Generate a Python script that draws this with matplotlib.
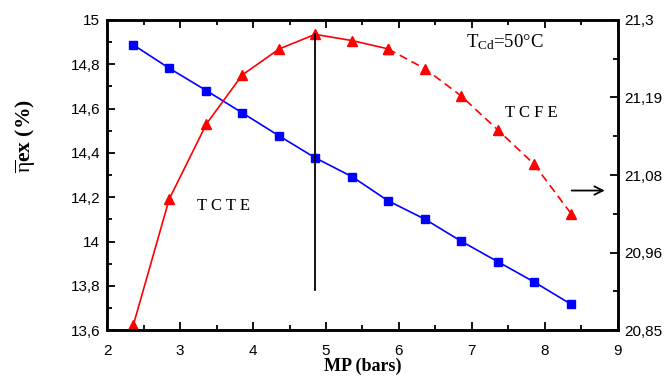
import numpy as np
import matplotlib.pyplot as plt
from matplotlib.ticker import MultipleLocator, FixedLocator

plt.rcParams["mathtext.fontset"] = "custom"
plt.rcParams["mathtext.rm"] = "Liberation Serif"
plt.rcParams["mathtext.it"] = "Liberation Serif:italic"
plt.rcParams["mathtext.bf"] = "Liberation Serif:bold"

# medium pressure (bars)
mp = [2.36, 2.85, 3.36, 3.85, 4.36, 4.85, 5.36, 5.85, 6.36, 6.85, 7.36, 7.85, 8.36]

# exergy efficiency, left axis (%)
eta_left = [14.887, 14.782, 14.681, 14.581, 14.476, 14.378, 14.292, 14.184,
            14.100, 14.002, 13.908, 13.818, 13.717]

# exergy efficiency, right axis (%)
eta_right = [20.858, 21.040, 21.149, 21.220, 21.258, 21.279, 21.270, 21.258,
             21.229, 21.190, 21.140, 21.091, 21.019]

right_ticks = [20.85, 20.9625, 21.075, 21.1875, 21.3]
right_labels = ["20,85", "20,96", "21,08", "21,19", "21,3"]
left_ticks = [13.6, 13.8, 14.0, 14.2, 14.4, 14.6, 14.8, 15.0]
left_labels = ["13,6", "13,8", "14", "14,2", "14,4", "14,6", "14,8", "15"]

peak_idx = 5      # optimum MP
split_idx = 7     # TCTE -> TCFE transition
line_bottom = 20.908

fig = plt.figure(figsize=(6.7, 3.83), dpi=100)
ax = fig.add_axes([0.160, 0.138, 0.762, 0.810])
ax2 = ax.twinx()

sans = "Liberation Sans"
serif = "Liberation Serif"

ax.plot(mp, eta_left, color="#0000ff", lw=1.2, marker="s", ms=6,
        markeredgecolor="#0000ff")

ax2.plot(mp[:split_idx + 1], eta_right[:split_idx + 1], color="#ff0000", lw=1.2,
         marker="^", ms=6.5)
ax2.plot(mp[split_idx:], eta_right[split_idx:], color="#ff0000", lw=1.2,
         ls=(0, (5, 3)), marker="^", ms=6.5)
ax2.plot([mp[peak_idx], mp[peak_idx]], [line_bottom, eta_right[peak_idx]],
         color="black", lw=1.3)

ax.set_xlim(2, 9)
ax.set_ylim(13.6, 15)
ax2.set_ylim(20.85, 21.3)

ax.xaxis.set_major_locator(MultipleLocator(1))
ax.xaxis.set_minor_locator(MultipleLocator(0.5))
ax.yaxis.set_major_locator(FixedLocator(left_ticks))
ax.set_yticklabels(left_labels)
ax.yaxis.set_minor_locator(MultipleLocator(0.1))
ax2.yaxis.set_major_locator(FixedLocator(right_ticks))
ax2.set_yticklabels(right_labels)
ax2.yaxis.set_minor_locator(FixedLocator(
    [(a + b) / 2 for a, b in zip(right_ticks[:-1], right_ticks[1:])]))

ax.tick_params(which="both", direction="in", top=True, right=False, width=1.3,
               labelsize=11, pad=5)
ax.tick_params(axis="x", which="both", pad=10)
ax.tick_params(which="major", length=6)
ax.tick_params(which="minor", length=3.5)
ax2.tick_params(which="both", direction="in", width=1.3, labelsize=11, pad=5)
ax2.tick_params(which="major", length=6)
ax2.tick_params(which="minor", length=3.5)
for a in (ax, ax2):
    for lab in a.get_xticklabels() + a.get_yticklabels():
        lab.set_fontfamily(sans)
    for sp in a.spines.values():
        sp.set_linewidth(1.8)

ax.set_xlabel("MP (bars)", fontfamily=serif, fontweight="bold", fontsize=13,
              labelpad=0)
ax.set_ylabel(r"$\overline{\mathrm{\eta}}$ex (%)", fontfamily=serif,
              fontweight="bold", fontsize=15.5)
ax.yaxis.set_label_coords(-0.135, 0.625)

ax.text(3.6, 14.16, "T C T E", fontfamily=serif, fontsize=12, ha="center",
        va="center")
ax.text(7.82, 14.58, "T C F E", fontfamily=serif, fontsize=12, ha="center",
        va="center")
ax.text(7.45, 14.9, r"T$_{\mathrm{Cd}}$=50°C", fontfamily=serif, fontsize=13.5,
        ha="center", va="center")

ax.annotate("", xy=(8.86, 14.23), xytext=(8.33, 14.23),
            arrowprops=dict(arrowstyle="->", color="black", lw=1.3,
                            mutation_scale=15))

fig.savefig("out.png", dpi=100)
